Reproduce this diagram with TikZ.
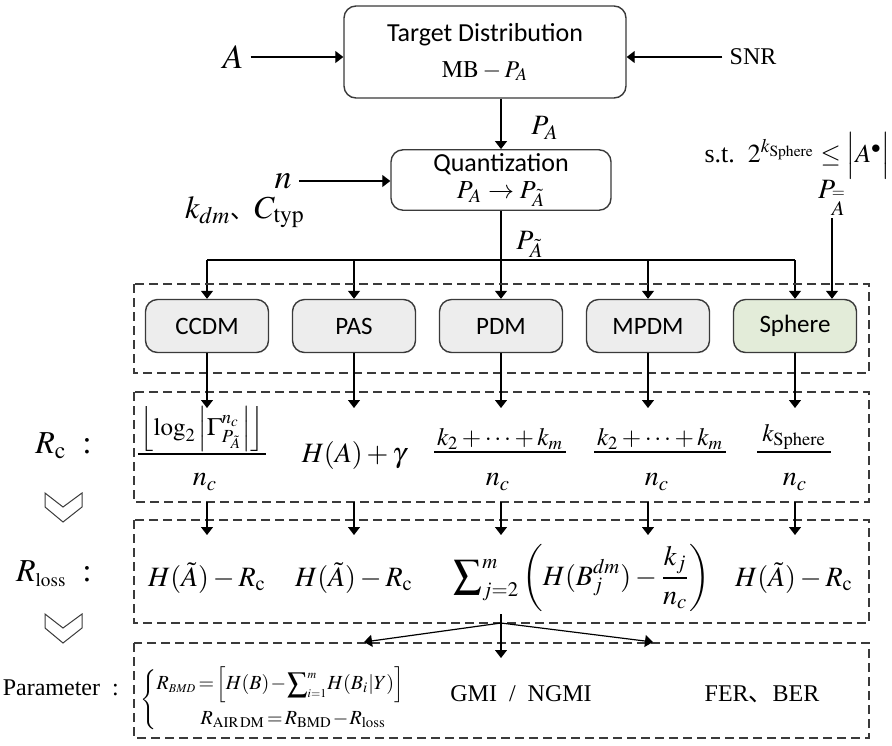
\documentclass[tikz,border=0pt]{standalone}
\usepackage{amsmath}
\usepackage{mathptmx}
\usepackage[no-math]{fontspec}
\setmainfont{Liberation Serif}
\newfontfamily\boxfont{Carlito}
\newfontfamily\cjk{Noto Sans CJK SC}
\usetikzlibrary{arrows.meta}

\definecolor{boxgray}{HTML}{EDEDED}
\definecolor{spheregreen}{HTML}{E3ECD9}
\definecolor{edgegray}{HTML}{3A3A3A}

\begin{document}
\begin{tikzpicture}[x=0.5pt,y=-0.5pt,
  >={Triangle[length=4pt,width=6pt]},
  line width=0.6pt,
  mainbox/.style={draw=edgegray, fill=white, rounded corners=6pt, line width=0.7pt,
    align=center, inner sep=2pt, font=\boxfont\fontsize{13}{15}\selectfont},
  method/.style={draw=edgegray, fill=boxgray, rounded corners=6pt, line width=0.7pt,
    minimum width=61.5pt, minimum height=26.5pt, font=\boxfont\fontsize{12.5}{15}\selectfont},
  rowbox/.style={draw=edgegray, dash pattern=on 4.5pt off 2.5pt, line width=0.6pt},
  term/.style={font=\fontsize{14}{17}\selectfont, inner sep=1pt},
  rateterm/.style={font=\fontsize{12.5}{15}\selectfont, inner sep=1pt},
  biglabel/.style={font=\fontsize{17}{20}\selectfont},
  rowlabel/.style={font=\fontsize{16}{19}\selectfont, anchor=east, inner sep=0pt},
  serifnote/.style={font=\fontsize{12}{14}\selectfont},
  chevron/.style={draw=edgegray, line width=0.5pt}
]
\useasboundingbox (0,0) rectangle (892,745);

% Top blocks
\node[mainbox, minimum width=141pt, minimum height=46pt] (target) at (485,52)
  {Target Distribution\\[3pt] {\fontsize{12}{14}\selectfont $\mathrm{MB}-P_{A}$}};
\node[mainbox, minimum width=110pt, minimum height=30pt] (quant) at (501,180)
  {Quantization\\[-1.5pt] $P_{A}\to P_{\tilde A}$};

% Inputs
\node[biglabel] (A) at (233,57) {$A$};
\node[serifnote] (snr) at (753,57) {SNR};
\draw[->] (A.east) -- (A.east -| target.west);
\draw[->] (snr.west) -- (snr.west -| target.east);
\draw[->] (quant |- target.south) -- (quant.north);
\node[term] (pa) at (545,128) {$P_{A}$};

\node[biglabel] (n) at (283,181) {$n$};
\draw[->] (n.east) -- (n.east -| quant.west);
\node[term, font=\fontsize{16}{19}\selectfont] (kdm) at (245,212)
  {$k_{dm}${\cjk\fontsize{12}{14}\selectfont 、}$C_{\mathrm{typ}}$};

\node[serifnote, font=\fontsize{13}{15}\selectfont, anchor=east, inner sep=0pt] (st) at (891,156)
  {s.t.\ \ $2^{k_{\mathrm{Sphere}}}\le\Bigl|A^{\bullet}\Bigr|$};
\node[term] (pbar) at (832,198) {$P_{\overset{=}{A}}$};

% Methods
\node[method] (ccdm) at (207,326) {CCDM};
\node[method] (pas) at (354,326) {PAS};
\node[method] (pdm) at (501,326) {PDM};
\node[method] (mpdm) at (648,326) {MPDM};
\node[method, fill=spheregreen] (sphere) at (795,326) {Sphere};

\coordinate (split) at (501,260);
\draw[->] (quant.south) -- (pdm.north);
\draw (ccdm |- split) -- (sphere |- split);
\foreach \m in {ccdm,pas,mpdm,sphere}
  \draw[->] (\m |- split) -- (\m.north);
\draw[->] (pbar.south) -- (pbar.south |- sphere.north);
\node[term] (pqt) at (530,244) {$P_{\tilde A}$};

% Dashed rows
\draw[rowbox] (134,284) rectangle (869,373);
\draw[rowbox] (134,392) rectangle (869,502);
\draw[rowbox] (134,520) rectangle (869,623);
\draw[rowbox] (134,643) rectangle (869,738);

\coordinate (tip2) at (0,408);
\coordinate (top3) at (0,502);
\coordinate (tip3) at (0,535);
\foreach \m in {ccdm,pas,pdm,mpdm,sphere} {
  \draw[->] (\m.south) -- (\m |- tip2);
  \draw[->] (\m |- top3) -- (\m |- tip3);
}

% Rate R_c
\node[rateterm, anchor=south] (rc1) at (202,454)
  {$\left\lfloor \log_2 \left|\Gamma^{n_c}_{P_{\tilde A}}\right| \right\rfloor$};
\draw (rc1.south west) -- (rc1.south east);
\node[term] (nc1) at (205,482) {$n_c$};
\node[term] (rc2) at (354,455) {$H(A)+\gamma$};
\node[rateterm, anchor=south] (rc3) at (500,452) {$k_2+\cdots+k_m$};
\draw (rc3.south west) -- (rc3.south east);
\node[term] (nc3) at (498,482) {$n_c$};
\node[rateterm, anchor=south] (rc4) at (660,452) {$k_2+\cdots+k_m$};
\draw (rc4.south west) -- (rc4.south east);
\node[term] (nc4) at (657,482) {$n_c$};
\node[rateterm, anchor=south, minimum width=36pt] (rc5) at (794,452) {$k_{\mathrm{Sphere}}$};
\draw (rc5.south west) -- (rc5.south east);
\node[term] (nc5) at (795,482) {$n_c$};

\node[rowlabel] (rclab) at (92,446) {$R_{\mathrm{c}}$\ \ :};
\draw[chevron] (45,493) -- (63,507) -- (82,493) -- (82,507) -- (63,522) -- (45,507) -- cycle;

% Rate loss
\node[term] (rl1) at (207,578) {$H(\tilde A)-R_{\mathrm c}$};
\node[term] (rl2) at (354,578) {$H(\tilde A)-R_{\mathrm c}$};
\node[term] (rl3) at (582,578)
  {$\displaystyle\sum\nolimits_{j=2}^{m}\left(H(B_j^{dm})-\frac{k_j}{n_c}\right)$};
\node[term] (rl4) at (794,578) {$H(\tilde A)-R_{\mathrm c}$};

\node[rowlabel] (rllab) at (92,574) {$R_{\scriptscriptstyle\mathrm{loss}}$\ \ :};
\draw[chevron] (45,614) -- (63,628) -- (82,614) -- (82,628) -- (63,643) -- (45,628) -- cycle;

% Parameters
\coordinate (fork) at (501,623);
\coordinate (gmitip) at (501,658);
\coordinate (lefttip) at (364,642);
\coordinate (righttip) at (653,642);
\draw (fork |- rl3.south) -- (fork);
\draw[->] (fork) -- (gmitip);
\draw[->] (fork) -- (lefttip);
\draw[->] (fork) -- (righttip);

\node[serifnote, anchor=east] (param) at (126,688) {Parameter\ \ :};
\node[anchor=west, inner sep=0pt, font=\fontsize{10}{12}\selectfont] (bmd) at (140,700)
  {\medmuskip=1mu\thickmuskip=2mu$\begin{cases}
     R_{\scriptscriptstyle BMD}=\Bigl[H(B)-\displaystyle\sum\nolimits_{\scriptscriptstyle i=1}^{\scriptscriptstyle m}\!H(B_i|Y)\Bigr]\\[3pt]
     \hspace{22pt}R_{\mathrm{AIR\,DM}}=R_{\mathrm{BMD}}-R_{\mathrm{loss}}
   \end{cases}$};
\node[serifnote] (gmi) at (521,694) {GMI\ \ /\ \ NGMI};
\node[serifnote] (fer) at (762,694) {FER{\cjk 、}BER};

\end{tikzpicture}
\end{document}
